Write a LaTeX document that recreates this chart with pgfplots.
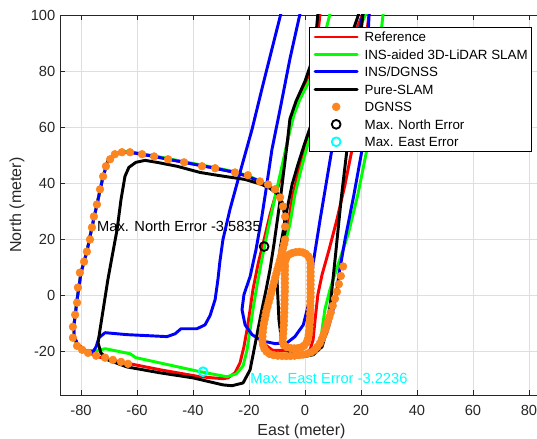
\documentclass[border=0pt]{standalone}
\usepackage{fontspec}
\setmainfont{Liberation Sans}
\usepackage{pgfplots}
\pgfplotsset{compat=1.18}
\definecolor{dgnss}{rgb}{0.99,0.52,0.12}
\definecolor{axgray}{rgb}{0.15,0.15,0.15}
\definecolor{mcyan}{rgb}{0,1,1}
\newcommand\lstrut{\rule[-3.6pt]{0pt}{12.6pt}}

\begin{document}
\begin{tikzpicture}
\begin{axis}[
  name=ax,
  scale only axis,
  width=362.25pt, height=285pt,
  xmin=-87.5, xmax=85, ymin=-35.4, ymax=100,
  xtick={-80,-60,...,80}, ytick={-20,0,...,100},
  grid=major, grid style={line width=0.5pt, color=black!13},
  tick align=inside, major tick length=3.75pt,
  tick style={axgray, line width=0.5pt},
  axis line style={axgray, line width=0.6pt},
  ticklabel style={font=\fontsize{11}{13}\selectfont, text=axgray},
  xticklabel style={yshift=-4.5pt},
  /pgf/number format/assume math mode=true,
  xlabel={East (meter)}, ylabel={North (meter)},
  label style={font=\fontsize{12}{14}\selectfont, text=axgray},
  xlabel style={at={(axis description cs:0.5,-0.097)}, anchor=center},
  ylabel style={at={(axis description cs:-0.089,0.5)}, anchor=center, rotate=0},
  legend style={at={(1,1)}, anchor=north east, xshift=-8.25pt, yshift=-9pt,
    draw=black, line width=0.5pt, fill=white,
    font=\fontsize{10}{12.6}\selectfont,
    inner xsep=3pt, inner ysep=2pt, row sep=2.6pt,
    nodes={inner sep=0pt},
    /tikz/every odd column/.append style={column sep=4.5pt}},
  legend cell align=left,
  legend image code/.code={\draw[mark repeat=2,mark phase=2,#1] plot coordinates {(0pt,0pt) (15.75pt,0pt) (31.5pt,0pt)};},
  every axis plot/.append style={line join=round, line cap=round},
]

% Reference
\addplot[red, line width=2.2pt] coordinates {
(23.9,103.9)(22.9,100.4)(20.4,80.7)(17.9,62.9)(16.8,52.1)(14.3,39.6)(11.4,27.1)(8.6,16.4)(6.1,7.5)(4.6,0.4)(3.6,-8.6)(2.9,-15.7)(1.8,-19.3)(-0.7,-21.1)(-4.6,-21.6)(-9.6,-21.4)(-13.2,-20)(-14.8,-17)(-15,-13)(-14.1,-7)(-12.6,-1)(-11,5)(-9.4,11)(-7.6,14.2)(-5.6,15.2)(-2.3,15.6)(0.8,14.8)(2,12)(2.1,2)(1.9,-8)(1.4,-14.5)(-0.4,-18)(-3.5,-19.5)(-7,-19.5)(-11.5,-19.5)(-14.2,-17.5)(-14.8,-13)(-14.3,-8)(-12.6,-1)(-10.6,6.5)(-8.6,14)(-7.3,19)(-6.1,25.4)(-4.3,36.1)(-2.1,45)(0,52.9)(2.5,61.1)(8.9,75.4)(16.1,89.6)(21.4,102.1)
};
\addlegendentry{\lstrut Reference}
\addplot[red, line width=2.2pt, forget plot] coordinates {
(-7.5,16.4)(-7.1,23.6)(-7.1,28.2)(-7.9,32.5)(-9.6,36.1)(-12.5,38.6)(-16.1,40.7)(-20.4,42.5)(-25,43.9)(-32.1,45.4)(-43.2,47.5)(-53.9,49.6)(-62.5,51.1)(-65.7,51.1)(-68.2,50)(-70.4,47.9)(-72.1,42.5)(-74.3,32.5)(-76.1,24.3)(-77.9,15.7)(-80,8.2)(-81.4,-1.4)(-82.5,-10.4)(-82.5,-15)(-81.1,-18.2)(-77.9,-20)(-73.9,-21.8)(-67.9,-23.2)(-51.8,-26.4)(-37.5,-28.9)(-29.3,-29.6)(-27.5,-29.3)(-25,-27.5)(-23.2,-23.9)(-21.8,-18.2)(-20.7,-12.1)(-19.6,-5)(-18.6,2.1)(-16.8,11.1)(-14.6,20)(-12.5,28.9)(-10.4,36.1)(-8.9,41.4)(-7.5,48.6)(-6.1,55.7)(-4.6,64.6)(-1.8,71.8)(1.1,77.9)(2.9,82.5)(3.9,89.6)(5,96.8)(5.7,103.9)
};

% INS-aided 3D-LiDAR SLAM
\addplot[green, line width=2.2pt] coordinates {
(28.6,103.9)(27.9,100.4)(26.1,84.3)(23.9,66.4)(22.1,52.1)(18.9,36.1)(15.4,21.8)(11.8,11.1)(8.9,2.1)(7.1,-5)(6.1,-12.1)(5.4,-17.5)(3.2,-20.7)(0.7,-21.6)(-3.6,-21.8)(-9.6,-21.6)(-13,-20.2)(-14.6,-17)(-14.6,-10)(-12.9,-2)(-11,5)(-9,12)(-7.5,17)(-5.4,25.4)(-3.6,36.1)(-1.4,45)(0.7,52.9)(3.2,61.1)(9.6,75.4)(16.8,89.6)(22.5,102.1)
};
\addlegendentry{\lstrut INS-aided 3D-LiDAR SLAM}
\addplot[green, line width=2.2pt, forget plot] coordinates {
(-7.6,17)(-7.1,23.6)(-7.1,28.2)(-7.9,32.5)(-9.6,36.1)(-12.5,38.6)(-16.1,40.9)(-20.4,42.7)(-25,44.1)(-32.1,45.6)(-43.2,47.7)(-53.9,49.8)(-62.5,51.3)(-65.7,51.3)(-68.2,50.2)(-70.4,48.1)(-72.1,42.7)(-74.3,32.5)(-76.1,24.3)(-77.9,15.7)(-80,8.2)(-81.4,-1.4)(-82.5,-10.4)(-82.5,-15)(-81.1,-17.9)(-78.2,-19.6)(-74.3,-19.6)(-71.4,-18.9)(-62.5,-20.7)(-60.4,-22.1)(-37.5,-27.1)(-27.9,-28.9)(-24.6,-27.9)(-22.1,-25)(-20.7,-19.3)(-19.6,-12.1)(-18.6,-5)(-17.1,3.9)(-15.4,12.9)(-13.2,23.6)(-11.1,33.2)(-9.3,41.4)(-7.5,49.3)(-5.7,57.5)(-3.9,64.6)(-1.8,70)(1.8,77.1)(4.6,84.3)(7.1,93.2)(8.9,100.4)(9.6,103.9)
};

% INS/DGNSS
\addplot[blue, line width=2.2pt] coordinates {
(23.6,103.9)(22.9,100.4)(21.8,77.1)(20.4,52.1)(17.5,36.1)(14.3,20)(12.1,7.5)(11.1,-0.4)(9.6,-6.8)(7.9,-12.9)(5.4,-17.9)(1.8,-20.7)(-2.5,-21.8)(-7.1,-21.4)
};
\addlegendentry{\lstrut INS/DGNSS}
\addplot[blue, line width=2.2pt, forget plot] coordinates {
(-1.1,103.9)(-1.8,100.4)(-5.4,84.3)(-8.9,66.4)(-11.8,52.1)(-13.9,37.9)(-15.4,28.2)(-17.5,16.4)(-19.6,6.8)(-21.8,0.4)(-22.5,-5)(-21.4,-10.4)(-18.9,-13.9)(-15.4,-16.1)(-10.7,-17.1)(-6.4,-16.8)(-3.6,-14.6)(-0.6,-10.4)(1.2,-3.2)(2.3,7.5)(3.4,14.6)(5.4,27.1)(7.5,39.6)(9.6,52.1)(12.5,64.6)(15.4,77.1)(18.2,89.6)(20.7,100.4)(21.4,103.9)
};
\addplot[blue, line width=2.2pt, forget plot] coordinates {
(-7.9,17.5)(-7.1,23.6)(-7.1,28.2)(-7.9,32.5)(-9.6,36.1)(-12.5,38.6)(-16.1,40.7)(-20.4,42.5)(-25,43.9)(-32.1,45.4)(-43.2,47.5)(-53.9,49.6)(-62.5,51.1)(-65.7,51.1)(-68.2,50)(-70.4,47.9)(-72.1,42.5)(-74.3,32.5)(-76.1,24.3)(-77.9,15.7)(-80,8.2)(-81.4,-1.4)(-82.5,-10.4)(-82.5,-14.3)(-81.1,-17.5)(-78.2,-19.6)(-75.7,-20)(-74.6,-18.2)(-73.6,-15)(-71.4,-13.2)(-63.6,-13.9)(-55.4,-14.3)(-49.3,-14.6)(-46.4,-13.6)(-44.3,-11.8)(-38.6,-11.8)(-35.7,-10.4)(-33.9,-7.1)(-32.1,-1.4)(-31.1,5.7)(-30.4,12.1)(-29.3,20)(-26.8,30.7)(-23.2,43.9)(-18.9,59.3)(-15.4,73.6)(-11.8,87.9)(-8.2,102.1)
};

% Pure-SLAM
\addplot[black, line width=2.2pt] coordinates {
(21.4,103.9)(20.7,100.4)(18.2,77.1)(15,52.1)(12.9,34.3)(11.1,16.4)(9.6,2.1)(8.6,-6.8)(7.9,-12.1)(6.1,-18.2)(2.9,-21.1)(-1.8,-21.8)(-5.4,-20.4)(-8.2,-17.5)(-9.3,-8.6)(-10,5.7)(-8.9,16.4)(-6.8,28.9)(-4.6,39.6)(-2.5,46.8)(0,54.6)(2.5,61.8)(8.9,77.1)(16.1,91.4)(20.4,103.9)
};
\addlegendentry{\lstrut Pure-SLAM}
\addplot[black, line width=2.2pt, forget plot] coordinates {
(-7.9,17.5)(-7.1,23.6)(-7.1,28.2)(-7.9,32.5)(-9.6,36.1)(-12.5,38.2)(-15.4,39.6)(-21.4,41.4)(-31.4,42.9)(-37.5,43.9)(-45.7,46.1)(-52.9,47.5)(-57.1,48.2)(-60.4,47.5)(-62.9,45.7)(-64.3,42.5)(-65.7,34.3)(-67.1,23.6)(-68.9,13.9)(-70.4,5.7)(-71.8,-3.2)(-73.2,-12.1)(-73.9,-16.8)(-72.9,-20.4)(-70.4,-22.9)(-63.6,-25.4)(-51.8,-27.5)(-40,-29.3)(-29.3,-31.8)(-26.1,-32.1)(-22.1,-31.1)(-19.6,-26.4)(-18.2,-19.3)(-16.8,-12.1)(-15.4,-5)(-13.9,2.1)(-12.5,9.3)(-11.1,18.2)(-9.6,28.9)(-8.6,36.1)(-7.5,45)(-6.4,53.9)(-5.4,62.9)(-3.2,69.3)(0,76.4)(2.1,82.5)(3.6,89.6)(4.6,100.4)(5,103.9)
};

% DGNSS
\addplot[only marks, mark=*, mark size=2.9pt, color=dgnss, mark options={draw=dgnss, fill=dgnss}] coordinates {
(-7.1,28.2)(-7.1,24.6)(-7.9,31.8)(-8.9,35)(-10.7,37.9)(-13.2,39.6)(-16.1,40.7)(-20.4,42.9)(-25,43.9)(-32.1,45.4)(-36.8,46.1)(-43.2,47.5)(-48.9,48.6)(-53.9,49.6)(-58.2,50.4)(-62.5,51.1)(-65.4,51.1)(-67.9,50.4)(-69.6,48.6)(-71.1,46.1)(-72.1,42.5)(-73.2,37.9)(-74.3,32.5)(-75.4,28.2)(-76.1,24.3)(-76.8,20)(-77.9,15.7)(-78.9,12.1)(-80.4,8.2)(-81.1,2.9)(-81.4,-2.5)(-82.1,-6.8)(-82.9,-11.1)(-82.9,-15)(-81.4,-17.9)(-79.6,-19.3)(-77.5,-20.4)(-74.6,-21.4)(-71.4,-22.1)(-68.6,-22.9)(-65.7,-23.6)(-63.2,-24.3)
(-7.0,12.5)(-6.5,13.8)(-5.6,14.7)(-4.5,15.2)(-3.3,15.5)(-2.0,15.6)(-0.8,15.4)(0.3,14.9)(1.2,14.0)(1.8,12.8)
(2.0,11.5)(2.0,10)(2.0,8.5)(2.0,7)(2.0,5.5)(2.0,4)(2.0,2.5)(2.0,1)(2.0,-0.5)(1.9,-2)(1.9,-3.5)(1.9,-5)(1.8,-6.5)(1.8,-8)(1.7,-9.5)(1.6,-11)(1.5,-12.5)(1.3,-14)(1.0,-15.5)(0.5,-16.8)(-0.3,-17.8)
(-1.3,-18.4)(-2.5,-18.7)(-3.8,-18.8)(-5.1,-18.7)(-6.4,-18.4)(-7.5,-17.7)
(-8.0,-16.5)(-7.9,-15)(-7.8,-13.5)(-7.7,-12)(-7.6,-10.5)(-7.5,-9)(-7.5,-7.5)(-7.4,-6)(-7.4,-4.5)(-7.3,-3)(-7.3,-1.5)(-7.3,0)(-7.2,1.5)(-7.2,3)(-7.2,4.5)(-7.2,6)(-7.2,7.5)(-7.2,9)(-7.1,10.5)
(-7.1,20)(-7.4,18.5)(-7.8,17)(-8.2,15.5)(-8.6,14)(-9.0,12.5)(-9.4,11)(-9.8,9.5)(-10.2,8)(-10.6,6.5)(-11.0,5)(-11.4,3.5)(-11.8,2)(-12.2,0.5)(-12.6,-1)(-13.0,-2.5)(-13.4,-4)(-13.8,-5.5)(-14.1,-7)(-14.4,-8.5)(-14.7,-10)(-14.9,-11.5)(-15.1,-13)(-15.2,-14.5)(-15.2,-16)(-15.0,-17.5)(-14.5,-18.9)(-13.7,-20.0)(-12.6,-20.8)
(-11.2,-21.2)(-9.7,-21.4)(-8.2,-21.5)(-6.7,-21.5)(-5.2,-21.5)(-3.7,-21.4)(-2.2,-21.2)(-0.7,-21.0)(0.8,-20.7)(2.2,-20.2)(3.4,-19.4)(4.4,-18.3)(5.3,-17)(6.0,-15.5)(6.6,-14)(7.2,-12.4)(7.7,-10.8)(8.2,-9.2)(8.7,-7.6)(9.2,-6)
(9.9,-3.6)(10.7,-1.1)(11.4,1.4)(12.1,4.1)(12.8,7)(13.6,10.4)
};
\addlegendentry{\lstrut DGNSS}

\addplot[only marks, mark=o, mark size=3.3pt, black, line width=1.4pt] coordinates {(-14.6,17.5)};
\addlegendentry{\lstrut Max. North Error}
\addplot[only marks, mark=o, mark size=3.3pt, mcyan, line width=1.4pt] coordinates {(-36.4,-27.1)};
\addlegendentry{\lstrut Max. East Error}

\node[anchor=west, inner sep=0pt, font=\fontsize{11}{13}\selectfont, text=black] at (axis cs:-74.3,24.6) {Max. North Error -3.5835};
\node[anchor=west, inner sep=0pt, font=\fontsize{11}{13}\selectfont, text=mcyan] at (axis cs:-19.6,-29.6) {Max. East Error -3.2236};
\end{axis}
\pgfresetboundingbox
\path ([xshift=-45pt,yshift=-33pt]ax.south west) rectangle ([xshift=-4.5pt,yshift=11.25pt]ax.north east);
\end{tikzpicture}
\end{document}
